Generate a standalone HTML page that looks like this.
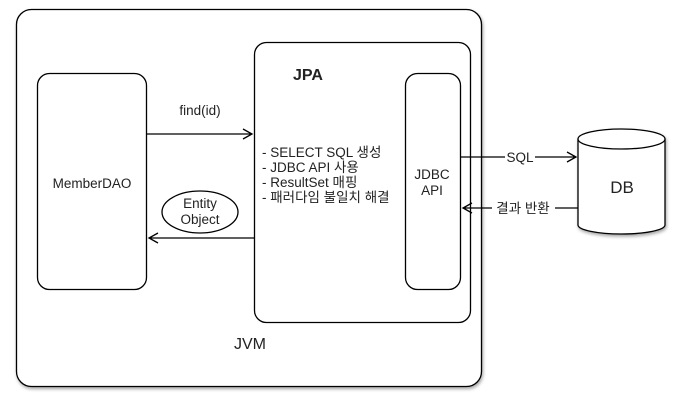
<!DOCTYPE html>
<html><head><meta charset="utf-8"><style>body{margin:0;background:#fff}svg{display:block}</style></head><body>
<svg width="676" height="414" viewBox="0 0 676 414" xmlns="http://www.w3.org/2000/svg" font-family="Liberation Sans, Noto Sans CJK KR, sans-serif" fill="none" stroke="#000" stroke-width="1.3">
<defs><filter id="s" x="-10%" y="-10%" width="130%" height="130%"><feDropShadow dx="1" dy="2" stdDeviation="1.5" flood-opacity="0.35"/></filter></defs>
<rect x="16.5" y="9.5" width="465" height="377" rx="15" filter="url(#s)" fill="#fff"/>
<rect x="37.5" y="73.5" width="109" height="216" rx="12" fill="#fff"/>
<rect x="254.5" y="42.5" width="216" height="280" rx="12" fill="#fff"/>
<rect x="405.5" y="73.5" width="55" height="216" rx="12" fill="#fff"/>
<g filter="url(#s)"><path d="M578,139 L578,225 A43.5,9 0 0 0 665,225 L665,139" fill="#fff"/><ellipse cx="621.5" cy="139" rx="43.5" ry="10" fill="#fff"/></g>
<path d="M147,134 H252 M243,129 L252,134 L243,139"/>
<path d="M254,238 H149 M158,233 L149,238 L158,243"/>
<path d="M461,157 H505 M535,157 H576 M567,152 L576,157 L567,162"/>
<path d="M578,208 H555 M492,208 H463 M472,203 L463,208 L472,213"/>
<ellipse cx="200" cy="212" rx="38" ry="21" fill="#fff"/>
<g fill="#222" stroke="none" font-size="13.5">
<text x="308" y="80" font-size="16" font-weight="bold" text-anchor="middle">JPA</text>
<text x="92" y="188" text-anchor="middle">MemberDAO</text>
<text x="200" y="115" text-anchor="middle">find(id)</text>
<text x="200" y="208" text-anchor="middle">Entity</text>
<text x="200" y="224" text-anchor="middle">Object</text>
<text x="262" y="157">- SELECT SQL 생성</text>
<text x="262" y="172">- JDBC API 사용</text>
<text x="262" y="187">- ResultSet 매핑</text>
<text x="262" y="202">- 패러다임 불일치 해결</text>
<text x="432" y="179" text-anchor="middle">JDBC</text>
<text x="432" y="195" text-anchor="middle">API</text>
<text x="520" y="162" text-anchor="middle">SQL</text>
<text x="523" y="213" text-anchor="middle">결과 반환</text>
<text x="622" y="193" font-size="17" text-anchor="middle">DB</text>
<text x="250" y="349" font-size="16" text-anchor="middle">JVM</text>
</g>
</svg>
</body></html>
